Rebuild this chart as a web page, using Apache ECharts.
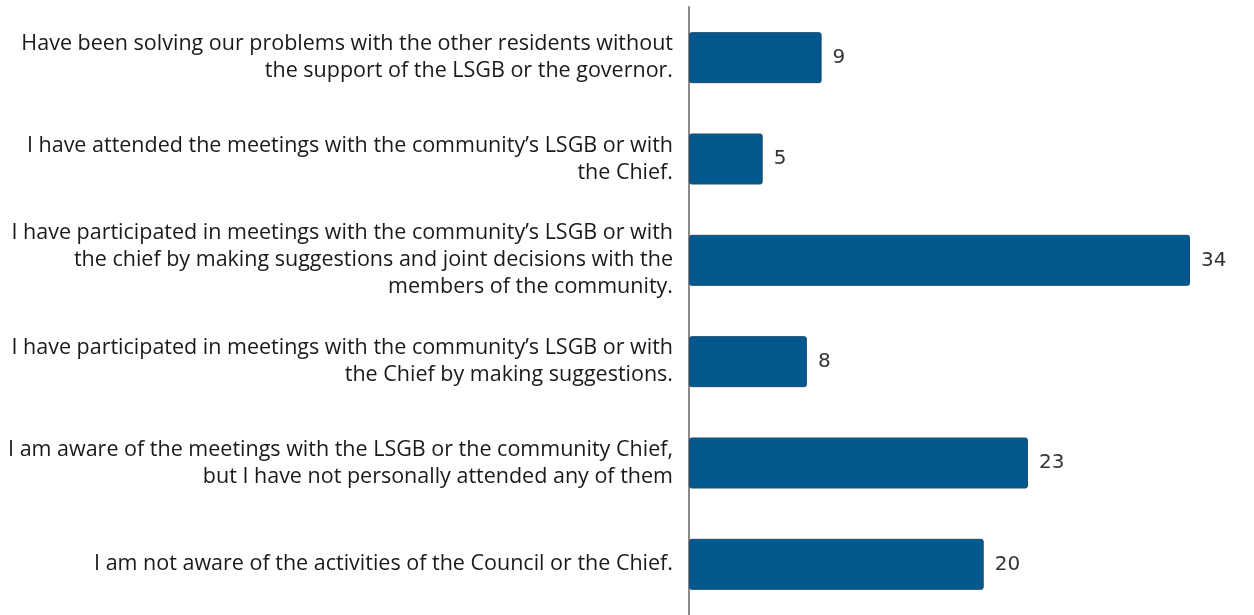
<!DOCTYPE html>
<html>
<head>
<meta charset="utf-8">
<script src="https://cdn.jsdelivr.net/npm/echarts@6/dist/echarts.min.js"></script>
<style>
  html, body { margin: 0; padding: 0; background: #ffffff; }
  #chart { width: 1254px; height: 615px; }
</style>
</head>
<body>
<div id="chart"></div>
<script>
// Survey answers, top to bottom
const categories = [
  "Have been solving our problems with the other residents without\nthe support of the LSGB or the governor.",
  "I have attended the meetings with the community\u2019s LSGB or with\nthe Chief.",
  "I have participated in meetings with the community\u2019s LSGB or with\nthe chief by making suggestions and joint decisions with the\nmembers of the community.",
  "I have participated in meetings with the community\u2019s LSGB or with\nthe Chief by making suggestions.",
  "I am aware of the meetings with the LSGB or the community Chief,\nbut I have not personally attended any of them",
  "I am not aware of the activities of the Council or the Chief."
];
const values = [9, 5, 34, 8, 23, 20];

const chart = echarts.init(document.getElementById('chart'), null, { renderer: 'canvas' });
chart.setOption({
  animation: false,
  backgroundColor: '#ffffff',
  grid: { left: 689, right: 64, top: 7, height: 612, containLabel: false },
  xAxis: {
    type: 'value',
    min: 0,
    max: 34,
    show: false
  },
  yAxis: {
    type: 'category',
    inverse: true,
    data: categories,
    axisLine: { show: true, lineStyle: { color: '#8a8a8a', width: 2 } },
    axisTick: { show: false },
    splitLine: { show: false },
    axisLabel: {
      margin: 16,
      align: 'right',
      fontFamily: 'Open Sans',
      fontSize: 21.5,
      lineHeight: 27,
      color: '#1a1a1a'
    }
  },
  series: [{
    type: 'bar',
    data: values,
    barWidth: 51,
    itemStyle: {
      color: '#03598d',
      borderColor: '#1b4a6c',
      borderWidth: 1,
      borderRadius: 2
    },
    label: {
      show: true,
      position: 'right',
      distance: 11,
      fontFamily: 'DejaVu Sans',
      fontSize: 20,
      color: '#333333'
    }
  }]
});
</script>
</body>
</html>
